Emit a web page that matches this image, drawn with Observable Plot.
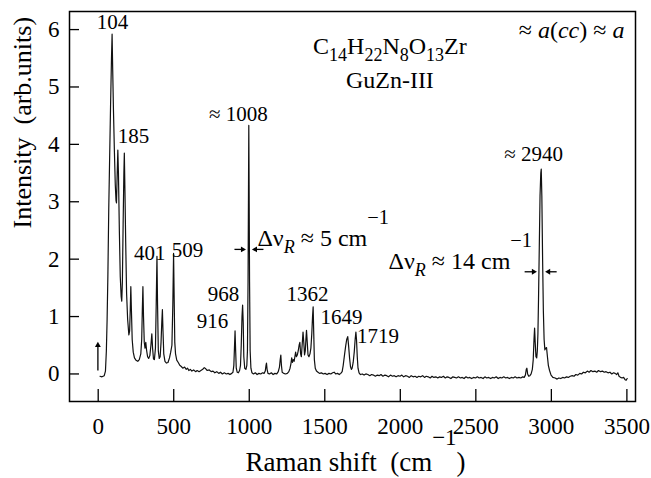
<!DOCTYPE html>
<html>
<head>
<meta charset="utf-8">
<script src="https://cdn.jsdelivr.net/npm/d3@7"></script>
<script src="https://cdn.jsdelivr.net/npm/@observablehq/plot@0.6"></script>
<style>
  html, body { margin: 0; padding: 0; background: #fff; }
</style>
</head>
<body>
<div id="chart"></div>
<script>
// Raman spectrum: [shift (cm^-1), intensity (arb. units)]
const spectrum = [
[12,-0.04],[25,-0.05],[40,-0.03],[48,0.05],[54,0.4],[59,0.95],[64,1.7],[70,2.9],[76,3.8],[82,4.7],[88,5.5],[92,5.92],[96,5.3],[101,4.6],[107,3.9],[113,3.3],[118,3.02],[121,2.98],[125,3.4],[130,3.9],[134,3.5],[140,2.5],[146,1.7],[152,1.35],[156,1.27],[160,1.6],[165,2.6],[170,3.5],[173,3.85],[177,3.2],[182,2.3],[188,1.4],[195,0.95],[203,0.68],[208,0.75],[212,1.1],[216,1.52],[220,1.1],[225,0.6],[232,0.38],[240,0.28],[250,0.24],[262,0.22],[272,0.25],[282,0.35],[288,0.6],[292,1.1],[296,1.52],[300,1.0],[305,0.55],[310,0.45],[315,0.55],[320,0.42],[327,0.3],[334,0.27],[342,0.32],[349,0.5],[355,0.7],[360,0.45],[366,0.26],[372,0.25],[379,0.45],[384,1.2],[389,2.05],[393,1.2],[398,0.4],[404,0.27],[410,0.3],[416,0.55],[421,0.9],[425,1.12],[429,0.75],[434,0.35],[442,0.22],[452,0.19],[462,0.2],[472,0.28],[480,0.38],[488,0.5],[494,1.2],[499,2.1],[503,1.3],[507,0.55],[512,0.35],[520,0.24],[530,0.2],[540,0.15],[550,0.13],[560,0.1],[572,0.12],[583,0.08],[592,0.1],[600,0.06],[610,0.08],[620,0.05],[632,0.07],[645,0.04],[655,0.06],[668,0.04],[680,0.06],[692,0.08],[702,0.11],[712,0.09],[722,0.06],[735,0.07],[748,0.04],[760,0.05],[772,0.02],[785,0.04],[798,0.01],[810,0.03],[822,0.0],[835,0.02],[848,0.0],[860,0.01],[872,-0.01],[884,0.01],[892,0.03],[898,0.15],[902,0.45],[906,0.75],[910,0.4],[914,0.1],[920,0.03],[928,0.02],[936,0.06],[942,0.15],[947,0.5],[952,1.0],[956,1.2],[960,0.9],[964,0.3],[970,0.1],[978,0.08],[984,0.15],[988,0.4],[992,1.6],[995,3.2],[997,4.33],[999,3.3],[1002,1.6],[1006,0.4],[1011,0.1],[1018,0.02],[1028,0.0],[1040,0.02],[1052,-0.01],[1064,0.01],[1076,0.0],[1088,0.02],[1098,0.01],[1106,0.05],[1111,0.15],[1114,0.19],[1118,0.08],[1124,0.01],[1134,0.0],[1146,0.02],[1158,-0.01],[1170,0.01],[1182,0.0],[1192,0.04],[1200,0.12],[1205,0.25],[1209,0.33],[1213,0.15],[1218,0.03],[1228,0.01],[1240,0.0],[1252,0.01],[1262,0.04],[1270,0.1],[1276,0.18],[1281,0.28],[1286,0.2],[1291,0.25],[1297,0.22],[1302,0.3],[1307,0.38],[1312,0.3],[1318,0.33],[1324,0.4],[1330,0.5],[1335,0.55],[1340,0.35],[1345,0.3],[1350,0.5],[1356,0.73],[1361,0.55],[1366,0.33],[1371,0.4],[1375,0.6],[1379,0.76],[1384,0.55],[1389,0.33],[1395,0.3],[1402,0.35],[1408,0.45],[1414,0.7],[1419,1.0],[1423,1.17],[1427,0.7],[1431,0.25],[1437,0.1],[1445,0.05],[1455,0.03],[1465,0.01],[1478,0.02],[1490,0.0],[1502,0.01],[1515,-0.01],[1528,0.01],[1540,0.0],[1552,0.02],[1562,0.03],[1572,0.0],[1584,0.01],[1596,-0.01],[1606,0.01],[1615,0.04],[1622,0.15],[1630,0.32],[1638,0.48],[1645,0.6],[1652,0.65],[1658,0.48],[1664,0.28],[1670,0.13],[1676,0.08],[1681,0.1],[1688,0.2],[1695,0.38],[1701,0.6],[1706,0.73],[1710,0.6],[1715,0.3],[1720,0.1],[1727,0.02],[1736,-0.01],[1748,0.0],[1760,-0.02],[1772,0.0],[1785,-0.01],[1798,-0.03],[1810,-0.01],[1822,-0.02],[1835,-0.04],[1848,-0.02],[1860,-0.03],[1872,-0.01],[1885,-0.04],[1898,-0.02],[1910,-0.03],[1922,-0.05],[1935,-0.02],[1948,-0.04],[1960,-0.03],[1972,-0.05],[1985,-0.03],[1998,-0.04],[2010,-0.02],[2022,-0.05],[2035,-0.03],[2048,-0.04],[2060,-0.06],[2072,-0.03],[2085,-0.05],[2098,-0.04],[2110,-0.06],[2122,-0.04],[2135,-0.05],[2148,-0.03],[2160,-0.06],[2172,-0.04],[2185,-0.05],[2198,-0.07],[2210,-0.04],[2222,-0.06],[2235,-0.05],[2248,-0.07],[2260,-0.05],[2272,-0.06],[2285,-0.04],[2298,-0.07],[2310,-0.05],[2322,-0.06],[2335,-0.08],[2348,-0.05],[2360,-0.06],[2372,-0.07],[2385,-0.05],[2398,-0.07],[2410,-0.06],[2422,-0.08],[2435,-0.05],[2448,-0.07],[2460,-0.06],[2472,-0.08],[2485,-0.06],[2498,-0.07],[2510,-0.05],[2522,-0.07],[2535,-0.06],[2548,-0.08],[2560,-0.05],[2572,-0.07],[2585,-0.06],[2598,-0.08],[2610,-0.06],[2622,-0.07],[2635,-0.05],[2648,-0.08],[2660,-0.06],[2672,-0.07],[2685,-0.05],[2698,-0.07],[2710,-0.06],[2722,-0.08],[2735,-0.06],[2748,-0.07],[2760,-0.05],[2772,-0.07],[2785,-0.06],[2798,-0.07],[2810,-0.05],[2820,-0.06],[2828,-0.02],[2834,0.08],[2838,0.1],[2843,0.0],[2850,-0.04],[2858,-0.03],[2866,0.0],[2874,0.08],[2880,0.25],[2885,0.6],[2889,0.8],[2893,0.55],[2898,0.3],[2903,0.28],[2907,0.4],[2911,0.7],[2915,1.3],[2920,2.2],[2925,3.1],[2930,3.5],[2933,3.57],[2937,3.1],[2942,2.0],[2947,1.1],[2952,0.6],[2957,0.42],[2963,0.45],[2968,0.46],[2974,0.3],[2980,0.15],[2988,0.06],[2998,-0.02],[3010,-0.06],[3025,-0.07],[3038,-0.09],[3050,-0.07],[3062,-0.08],[3075,-0.06],[3088,-0.07],[3100,-0.05],[3112,-0.06],[3125,-0.04],[3138,-0.03],[3150,-0.04],[3162,-0.01],[3175,-0.02],[3188,0.01],[3200,0.0],[3212,0.03],[3225,0.02],[3238,0.05],[3250,0.03],[3262,0.06],[3275,0.04],[3288,0.05],[3300,0.03],[3312,0.06],[3325,0.04],[3338,0.05],[3350,0.03],[3362,0.04],[3375,0.02],[3388,0.03],[3400,0.0],[3412,0.02],[3422,0.01],[3432,-0.01],[3440,0.02],[3448,-0.04],[3458,-0.06],[3468,-0.07],[3478,-0.06],[3488,-0.1],[3495,-0.11],[3502,-0.08]
];

const xTicks = [0, 500, 1000, 1500, 2000, 2500, 3000, 3500];
const yTicks = [0, 1, 2, 3, 4, 5, 6];

// Peak labels
const peakLabels = ["104", "185", "401", "509", "916", "968", "≈ 1008", "1362", "1649", "1719", "≈ 2940"];
const peakLabelX = [94, 233, 342, 591, 756, 829, 928, 1385, 1610, 1852, 2882];
const peakLabelY = [6.12, 4.14, 2.10, 2.15, 0.91, 1.38, 4.52, 1.38, 0.98, 0.66, 3.82];

// Line-width annotations
const widthNotes = ["Δν_{*R*} ≈ 5 cm^{−1}", "Δν_{*R*} ≈ 14 cm^{−1}"];
const widthNoteX = [1054, 1922];
const widthNoteY = [2.36, 1.96];

// Arrows: shaft start -> head
const arrowX1 = [902, 1094, 2823, 3035, -2];
const arrowX2 = [956, 1040, 2882, 2981, -2];
const arrowY1 = [2.17, 2.17, 1.78, 1.78, 0.06];
const arrowY2 = [2.17, 2.17, 1.78, 1.78, 0.50];
const arrowRot = [90, -90, 90, -90, 0];

// Title block and polarization note
const notes = ["C_{14}H_{22}N_{8}O_{13}Zr", "GuZn-III", "≈ *a*(*cc*) ≈ *a*"];
const noteX = [1931, 1931, 3134];
const noteY = [5.70, 5.11, 5.98];

const xLabel = "Raman shift\u00a0\u00a0(cm^{−1})";
const yLabel = "Intensity\u00a0\u00a0(arb.units)";

const data = spectrum.map(([x, y]) => ({x, y}));
const peaks = peakLabels.map((t, i) => ({t, x: peakLabelX[i], y: peakLabelY[i]}));
const wnotes = widthNotes.map((t, i) => ({t, x: widthNoteX[i], y: widthNoteY[i]}));
const arrows = arrowX1.map((x1, i) => ({x1, x2: arrowX2[i], y1: arrowY1[i], y2: arrowY2[i], r: arrowRot[i]}));
const tnotes = notes.map((t, i) => ({t, x: noteX[i], y: noteY[i]}));

const W = 651, H = 478, mL = 69, mR = 16, mT = 11, mB = 77;
const font = "'Liberation Serif', 'Times New Roman', serif";

const chart = Plot.plot({
  width: W, height: H,
  marginLeft: mL, marginRight: mR, marginTop: mT, marginBottom: mB,
  style: {fontFamily: font, fontSize: "23px", background: "#fff", color: "#000"},
  x: {domain: [-190, 3557], ticks: xTicks, tickSize: 0, tickPadding: 16, label: null, tickFormat: d => String(d)},
  y: {domain: [-0.48, 6.315], ticks: yTicks, tickSize: 0, tickPadding: 10, label: null, tickFormat: d => String(d)},
  marks: [
    Plot.tickX(xTicks, {x: d => d, insetTop: (H - mT - mB) - 12, stroke: "#000", strokeWidth: 1.3}),
    Plot.tickY(yTicks, {y: d => d, insetRight: (W - mL - mR) - 10, stroke: "#000", strokeWidth: 1.3}),
    Plot.line(data, {x: "x", y: "y", stroke: "#111", strokeWidth: 1.2}),
    Plot.link(arrows, {x1: "x1", y1: "y1", x2: "x2", y2: "y2", stroke: "#000", strokeWidth: 1.3}),
    Plot.dot(arrows, {x: "x2", y: "y2", symbol: "triangle2", r: 2.8, fill: "#000", stroke: "none", rotate: "r"}),
    Plot.text(peaks, {x: "x", y: "y", text: "t", fontSize: 21, fill: "#000"}),
    Plot.text(wnotes, {x: "x", y: "y", text: "t", fontSize: 24, textAnchor: "start", fill: "#000"}),
    Plot.text(tnotes, {x: "x", y: "y", text: "t", fontSize: 24, fill: "#000"}),
    Plot.text([xLabel], {frameAnchor: "bottom", text: d => d, dy: 69, dx: 3, fontSize: 27, fill: "#000"}),
    Plot.text([yLabel], {frameAnchor: "left", text: d => d, rotate: -90, dx: -47, dy: 22, fontSize: 26, fill: "#000"}),
    Plot.frame({stroke: "#000", strokeWidth: 1.5})
  ]
});

document.getElementById("chart").appendChild(chart);

// Rich text: _{sub}, ^{sup}, *italic*
function parseRich(s) {
  const out = [];
  let i = 0, italic = false, buf = "";
  const flush = () => { if (buf) out.push({t: buf, italic, mode: "n"}); buf = ""; };
  while (i < s.length) {
    const c = s[i];
    if (c === "*") { flush(); italic = !italic; i++; }
    else if ((c === "_" || c === "^") && s[i + 1] === "{") {
      flush();
      const j = s.indexOf("}", i);
      let t = s.slice(i + 2, j), it = italic;
      if (t.startsWith("*") && t.endsWith("*")) { t = t.slice(1, -1); it = true; }
      out.push({t, italic: it, mode: c === "_" ? "sub" : "sup"});
      i = j + 1;
    } else { buf += c; i++; }
  }
  flush();
  return out;
}

d3.select(chart).selectAll("text").each(function() {
  const s = this.textContent;
  if (!/[_^]\{|\*/.test(s)) return;
  const fs = parseFloat(getComputedStyle(this).fontSize) || 20;
  const segs = parseRich(s);
  const el = d3.select(this);
  el.text(null);
  let cur = 0;
  for (const seg of segs) {
    const target = seg.mode === "sub" ? 0.27 * fs : seg.mode === "sup" ? -0.93 * fs : 0;
    const ts = el.append("tspan").text(seg.t);
    ts.attr("dy", target - cur);
    cur = target;
    if (seg.mode === "sub") ts.attr("font-size", 0.75 * fs);
    else if (seg.mode === "sup") ts.attr("font-size", 0.85 * fs);
    else ts.attr("font-size", fs);
    if (seg.italic) ts.attr("font-style", "italic");
  }
});
</script>
</body>
</html>
